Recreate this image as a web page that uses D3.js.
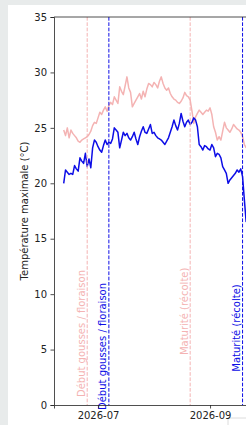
<!DOCTYPE html>
<html>
<head>
<meta charset="utf-8">
<script src="https://cdn.jsdelivr.net/npm/d3@7/dist/d3.min.js"></script>
<style>
  body { margin:0; padding:0; background:#e8ebeb; }
  svg { display:block; font-family:"DejaVu Sans", sans-serif; }
</style>
</head>
<body>
<svg id="chart"></svg>
<script>
// daily series, first day = 2026-06-12
var startDay = "2026-06-12";

var tmaxBlue = [
 20.0,21.2,21.0,20.8,20.9,20.8,21.6,21.3,21.1,22.3,
 22.0,21.8,22.7,21.5,22.2,21.4,23.2,23.9,23.7,23.3,
 23.0,22.8,23.4,23.9,23.5,23.7,23.6,24.0,25.0,24.8,
 24.6,23.2,23.9,24.6,24.3,24.5,24.1,23.9,24.2,24.6,
 24.0,23.5,24.2,24.7,25.1,24.6,24.5,24.9,25.3,24.5,
 24.6,24.3,24.1,24.0,23.9,23.7,23.5,23.8,24.1,24.6,
 25.1,25.7,25.2,24.8,25.4,26.3,25.6,25.1,25.5,25.7,
 25.3,25.5,25.9,25.7,25.1,23.5,23.3,23.0,23.4,23.3,
 23.1,23.0,23.5,23.2,22.4,22.7,22.6,22.3,21.5,21.2,
 20.9,20.0,20.3,20.5,20.7,20.9,21.2,21.0,21.3,20.6,
 18.5,16.5
];

var tmaxPink = [
 24.8,24.3,25.0,24.1,24.8,24.5,24.3,24.1,23.8,23.7,
 23.9,24.0,24.1,24.2,24.4,24.7,25.2,25.5,25.4,25.9,
 26.4,26.2,26.6,26.9,26.5,27.0,27.3,27.1,27.8,27.5,
 27.2,28.7,28.3,28.0,28.8,29.6,28.6,28.2,26.9,27.2,
 27.5,27.8,28.1,27.6,28.3,27.8,28.5,29.0,28.9,28.7,
 29.1,28.9,28.6,29.2,29.6,29.0,28.6,28.4,28.6,28.1,
 27.8,27.6,27.5,27.3,27.2,27.4,27.7,28.2,27.9,27.8,
 27.5,26.5,25.4,26.0,26.3,26.6,26.4,26.2,26.4,26.6,
 26.5,26.8,26.2,25.1,24.6,23.9,24.2,23.9,24.7,25.5,
 25.0,24.8,24.6,24.9,25.3,25.1,24.9,24.8,24.6,24.2,
 23.5,23.2
];

var stageNames = ["Début gousses / floraison", "Maturité (récolte)"];
var stagePink = ["2026-06-25", "2026-08-21"];
var stageBlue = ["2026-07-07", "2026-09-19"];

var yTicks = [0,5,10,15,20,25,30,35];
var xTicks = ["2026-07-01", "2026-09-01"];

var screen = {width:246, height:425};
var margins = {left:54, top:17, bottom:20};
var plotRight = 253.4;
var plotBottom = 405;

var pinkCol = "#f4b3b3";
var blueCol = "#0d0de6";

var parse = d3.utcParse("%Y-%m-%d");
var day0 = parse(startDay);

var svg = d3.select("#chart")
    .attr("width",screen.width)
    .attr("height",screen.height)

// white card
svg.append("rect")
    .attr("x",8).attr("y",5)
    .attr("width",screen.width-8).attr("height",screen.height-5)
    .attr("fill","#ffffff")

svg.append("path")
    .attr("d","M228,425V418H246")
    .attr("fill","none")
    .attr("stroke","#dcdcdc")

var xScale = d3.scaleUtc()
    .domain([new Date(Date.UTC(2026,5,6,15)), new Date(Date.UTC(2026,8,25))])
    .range([margins.left, plotRight])

var yScale = d3.scaleLinear()
    .domain([0,35])
    .range([plotBottom, margins.top])

var toSeries = function(vals)
{
    return vals.map(function(v,i)
    {
        return {date:d3.utcDay.offset(day0,i), v:v};
    })
}

var line = d3.line()
    .x(function(d){ return xScale(d.date); })
    .y(function(d){ return yScale(d.v); })

var g = svg.append("g").classed("graph",true)

// clip to the axes area
svg.append("clipPath").attr("id","clip")
    .append("rect")
    .attr("x",margins.left).attr("y",margins.top)
    .attr("width",plotRight-margins.left).attr("height",plotBottom-margins.top)
g.attr("clip-path","url(#clip)")

g.append("path")
    .datum(toSeries(tmaxPink))
    .attr("fill","none")
    .attr("stroke",pinkCol)
    .attr("stroke-width",1.5)
    .attr("stroke-linejoin","round")
    .attr("d",line)

g.append("path")
    .datum(toSeries(tmaxBlue))
    .attr("fill","none")
    .attr("stroke",blueCol)
    .attr("stroke-width",1.5)
    .attr("stroke-linejoin","round")
    .attr("d",line)

// stage markers
var drawStages = function(dates,color,labelYs)
{
    dates.forEach(function(ds,i)
    {
        var xp = xScale(parse(ds));
        g.append("line")
            .attr("x1",xp).attr("x2",xp)
            .attr("y1",margins.top).attr("y2",plotBottom)
            .attr("stroke",color)
            .attr("stroke-width",1)
            .attr("stroke-dasharray","3.7,1.6")
        svg.append("text")
            .attr("transform","translate("+(xp-2.5)+","+yScale(labelYs[i])+") rotate(-90)")
            .attr("font-size",10)
            .attr("fill",color)
            .text(stageNames[i])
    })
}
drawStages(stagePink,pinkCol,[0.72,4.5]);
drawStages(stageBlue,blueCol,[-0.45,3.0]);

// axes
var xAxis = d3.axisBottom(xScale)
    .tickValues(xTicks.map(parse))
    .tickFormat(d3.utcFormat("%Y-%m"))
    .tickSizeOuter(0)
    .tickSize(3.5)
    .tickPadding(3.5)
var yAxis = d3.axisLeft(yScale)
    .tickValues(yTicks)
    .tickSizeOuter(0)
    .tickSize(3.5)
    .tickPadding(3.5)

var gx = svg.append("g")
    .attr("transform","translate(0,"+plotBottom+")")
    .call(xAxis)
var gy = svg.append("g")
    .attr("transform","translate("+margins.left+",0)")
    .call(yAxis)

;[gx,gy].forEach(function(a)
{
    a.selectAll("text").attr("font-size",10).attr("fill","#222").attr("font-family","DejaVu Sans, sans-serif")
    a.selectAll("line").attr("stroke","#222").attr("stroke-width",0.8)
    a.select(".domain").attr("stroke","#222").attr("stroke-width",0.8)
})

// top and right spines
svg.append("line")
    .attr("x1",margins.left).attr("x2",plotRight)
    .attr("y1",margins.top).attr("y2",margins.top)
    .attr("stroke","#222").attr("stroke-width",0.8)
svg.append("line")
    .attr("x1",plotRight).attr("x2",plotRight)
    .attr("y1",margins.top).attr("y2",plotBottom)
    .attr("stroke","#222").attr("stroke-width",0.8)

svg.append("text")
    .attr("transform","translate(28,"+((margins.top+plotBottom)/2)+") rotate(-90)")
    .attr("text-anchor","middle")
    .attr("font-size",10)
    .attr("fill","#222")
    .text("Température maximale (°C)")
</script>
</body>
</html>
